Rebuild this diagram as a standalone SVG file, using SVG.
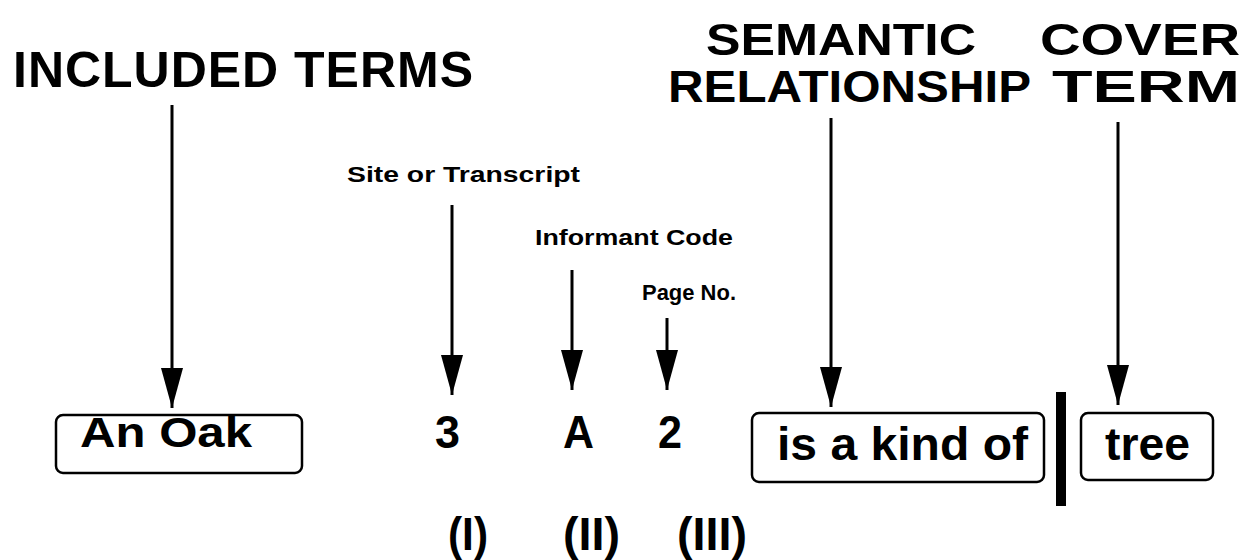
<svg xmlns="http://www.w3.org/2000/svg" width="1250" height="560" viewBox="0 0 1250 560">
  <style>
    text { font-family: "Liberation Sans", Arial, Helvetica, sans-serif; font-weight: bold; fill: #000; }
    .head { font-size: 45px; }
    .label { font-size: 22px; }
    .code { font-size: 46px; }
    .box { fill: #fff; stroke: #000; stroke-width: 2.5; }
    .conn { stroke: #000; stroke-width: 3; fill: none; marker-end: url(#arrow); }
  </style>
  <defs>
    <marker id="arrow" markerUnits="userSpaceOnUse" markerWidth="40" markerHeight="22" viewBox="0 0 40 22" refX="40" refY="11" orient="auto">
      <path d="M0,0 L40,11 L0,22 z" fill="#000"/>
    </marker>
  </defs>
  <rect width="1250" height="560" fill="#fff"/>

  <!-- column headings -->
  <g id="heading-included">
    <text x="13" y="87" font-size="50" textLength="460" lengthAdjust="spacing">INCLUDED  TERMS</text>
  </g>
  <g id="heading-semantic">
    <text class="head" x="706" y="55" textLength="270" lengthAdjust="spacingAndGlyphs">SEMANTIC</text>
    <text class="head" x="668" y="102" textLength="363" lengthAdjust="spacingAndGlyphs">RELATIONSHIP</text>
  </g>
  <g id="heading-cover">
    <text class="head" x="1040" y="55" textLength="200" lengthAdjust="spacingAndGlyphs">COVER</text>
    <text class="head" x="1052" y="102" textLength="188" lengthAdjust="spacingAndGlyphs">TERM</text>
  </g>

  <!-- small labels over the codes -->
  <g id="label-site">
    <text class="label" x="347" y="182" textLength="233" lengthAdjust="spacingAndGlyphs">Site or Transcript</text>
  </g>
  <g id="label-informant">
    <text class="label" x="535" y="245" textLength="198" lengthAdjust="spacingAndGlyphs">Informant Code</text>
  </g>
  <g id="label-page">
    <text class="label" x="642" y="300" textLength="94" lengthAdjust="spacingAndGlyphs">Page No.</text>
  </g>

  <!-- arrows -->
  <g id="connectors">
    <line class="conn" x1="172" y1="105" x2="172" y2="408"/>
    <line class="conn" x1="452" y1="205" x2="452" y2="395"/>
    <line class="conn" x1="572" y1="270" x2="572" y2="390"/>
    <line class="conn" x1="667" y1="318" x2="667" y2="390"/>
    <line class="conn" x1="831" y1="118" x2="831" y2="407"/>
    <line class="conn" x1="1118" y1="122" x2="1118" y2="405"/>
  </g>

  <!-- entry row -->
  <g id="node-an-oak">
    <rect class="box" x="56" y="415" width="246" height="58" rx="7"/>
    <text x="80" y="447" font-size="42" textLength="172" lengthAdjust="spacingAndGlyphs">An Oak</text>
  </g>
  <g id="node-site">
    <text class="code" x="435" y="448" textLength="25" lengthAdjust="spacingAndGlyphs">3</text>
  </g>
  <g id="node-informant">
    <text class="code" x="563" y="448" textLength="31" lengthAdjust="spacingAndGlyphs">A</text>
  </g>
  <g id="node-page">
    <text class="code" x="658" y="448" textLength="24" lengthAdjust="spacingAndGlyphs">2</text>
  </g>
  <g id="node-is-a-kind-of">
    <rect class="box" x="752" y="413" width="292" height="69" rx="7"/>
    <text x="777" y="460" font-size="46" textLength="251" lengthAdjust="spacingAndGlyphs">is a kind of</text>
  </g>
  <g id="divider">
    <rect x="1056" y="392" width="10" height="114" fill="#000"/>
  </g>
  <g id="node-tree">
    <rect class="box" x="1081" y="413" width="132" height="67" rx="7"/>
    <text x="1105" y="460" font-size="46" textLength="85" lengthAdjust="spacingAndGlyphs">tree</text>
  </g>

  <!-- roman numerals -->
  <g id="numerals">
    <text class="code" x="448" y="550" textLength="40" lengthAdjust="spacingAndGlyphs">(I)</text>
    <text class="code" x="563" y="550" textLength="57" lengthAdjust="spacingAndGlyphs">(II)</text>
    <text class="code" x="677" y="550" textLength="70" lengthAdjust="spacingAndGlyphs">(III)</text>
  </g>
</svg>
